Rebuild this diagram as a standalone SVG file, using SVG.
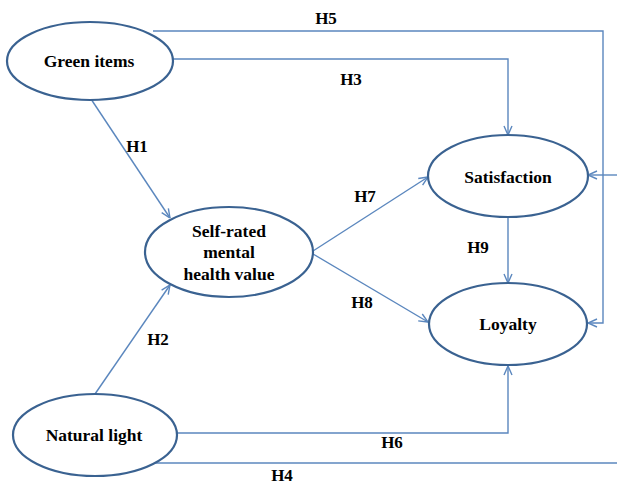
<svg xmlns="http://www.w3.org/2000/svg" width="617" height="485" viewBox="0 0 617 485">
<style>
.node ellipse{fill:#fff;stroke:#3A6291;stroke-width:2.2}
text{font-family:'Liberation Serif','DejaVu Serif',serif;font-weight:bold;fill:#000;text-anchor:middle}
.node text{font-size:17.5px}
.lbl{font-size:17px}
.conn path{fill:none;stroke:#5B87BE;stroke-width:1.4}
</style>
<defs>
<marker id="ah" viewBox="0 0 10 10" refX="10" refY="5" markerWidth="10" markerHeight="10" markerUnits="userSpaceOnUse" orient="auto">
<path d="M1,1 L10,5 L1,9" fill="none" stroke="#5B87BE" stroke-width="1.4"/>
</marker>
</defs>
<rect width="617" height="485" fill="#fff"/>
<g class="conn" id="connectors">
<path d="M153,31 H603 V323 H588" marker-end="url(#ah)"/>
<path d="M172,59 H508 V135" marker-end="url(#ah)"/>
<path d="M91,99 L170,218" marker-end="url(#ah)"/>
<path d="M95,394 L170,285" marker-end="url(#ah)"/>
<path d="M313,251 L428,177" marker-end="url(#ah)"/>
<path d="M313,254 L428,322" marker-end="url(#ah)"/>
<path d="M508,217 V283" marker-end="url(#ah)"/>
<path d="M177,433 H508 V366" marker-end="url(#ah)"/>
<path d="M155,463 H617"/>
<path d="M617,175 H588" marker-end="url(#ah)"/>
</g>
<g id="green-items" class="node"><ellipse cx="90" cy="61" rx="83" ry="39"/><text x="89" y="67">Green items</text></g>
<g id="self-rated" class="node"><ellipse cx="229" cy="252" rx="84" ry="45"/><text x="229" y="237">Self-rated</text><text x="229" y="258">mental</text><text x="229" y="280">health value</text></g>
<g id="satisfaction" class="node"><ellipse cx="508" cy="176" rx="80" ry="41"/><text x="508" y="183">Satisfaction</text></g>
<g id="loyalty" class="node"><ellipse cx="508" cy="324" rx="79" ry="41"/><text x="508" y="330">Loyalty</text></g>
<g id="natural-light" class="node"><ellipse cx="95" cy="435" rx="82" ry="41"/><text x="94" y="441">Natural light</text></g>
<g id="labels">
<text class="lbl" x="326" y="24">H5</text>
<text class="lbl" x="351" y="85">H3</text>
<text class="lbl" x="137" y="152">H1</text>
<text class="lbl" x="365" y="202">H7</text>
<text class="lbl" x="362" y="308">H8</text>
<text class="lbl" x="478" y="253">H9</text>
<text class="lbl" x="158" y="345">H2</text>
<text class="lbl" x="392" y="448">H6</text>
<text class="lbl" x="282" y="481">H4</text>
</g>
</svg>
